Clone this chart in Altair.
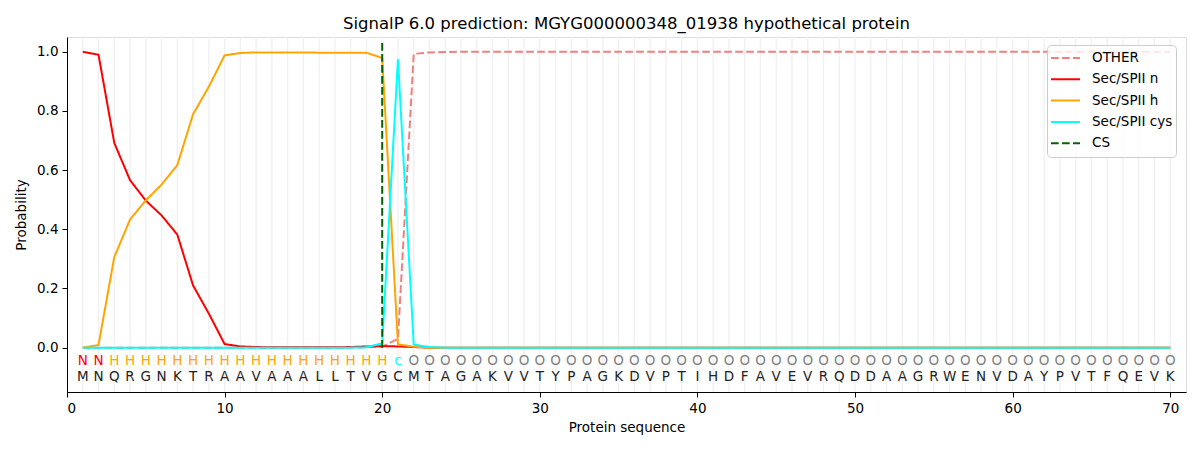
import altair as alt
import pandas as pd

sequence = list("MNQRGNKTRAAVAAALLTVGCMTAGAKVVTYPAGKDVPTIHDFAVEVRQDDAAGRWENVDAYPVTFQEVK")
labels = list("NN" + "H" * 18 + "c" + "O" * 49)

n_vals = [1.0, 0.99, 0.692, 0.566, 0.497, 0.447, 0.382, 0.21, 0.115, 0.012,
          0.004, 0.002, 0.001, 0.001, 0.001, 0.001, 0.001, 0.002, 0.004, 0.005,
          0.004, 0.002] + [0.0] * 48
h_vals = [0.0, 0.009, 0.306, 0.433, 0.498, 0.551, 0.617, 0.789, 0.882, 0.988,
          0.996, 0.998, 0.998, 0.998, 0.998, 0.997, 0.997, 0.997, 0.997, 0.979,
          0.011, 0.003] + [0.0] * 48
cys_vals = [0.0] * 18 + [0.001, 0.015, 0.975, 0.01, 0.002] + [0.0] * 47
other_vals = [0.0] * 18 + [0.001, 0.003, 0.03, 0.993, 0.998, 0.999] + [1.0] * 46
cs_pos = 20
cs_y = [0.0, 1.035]

series_names = ["OTHER", "Sec/SPII n", "Sec/SPII h", "Sec/SPII cys", "CS"]
series_colors = ["#f08080", "#ff0000", "#ffa500", "#00ffff", "#006400"]
series_dash = [[7.7, 3.3], [1, 0], [1, 0], [1, 0], [7.7, 3.3]]
label_colors = {"N": "#ff0000", "H": "#ffa500", "c": "#00ffff", "O": "#808080"}

pos = list(range(1, len(sequence) + 1))
rows = []
for name, vals in [("OTHER", other_vals), ("Sec/SPII n", n_vals),
                   ("Sec/SPII h", h_vals), ("Sec/SPII cys", cys_vals)]:
    for i, v in zip(pos, vals):
        rows.append({"pos": i, "prob": v, "series": name})
for k, yv in enumerate(cs_y):
    rows.append({"pos": cs_pos, "prob": yv, "series": "CS"})
lines_df = pd.DataFrame(rows)

letters_df = pd.DataFrame({
    "pos": pos,
    "aa": sequence,
    "lab": labels,
    "labcolor": [label_colors[l] for l in labels],
    "y_lab": [-0.045] * len(pos),
    "y_seq": [-0.1] * len(pos),
})
grid_df = pd.DataFrame({"pos": pos})

xscale = alt.Scale(domain=[0, 71], nice=False, zero=False)
yscale = alt.Scale(domain=[-0.15, 1.05], nice=False, zero=False)
FONT = "DejaVu Sans"

grid = alt.Chart(grid_df).mark_rule(color="#f0f0f0", strokeWidth=1.3).encode(
    x=alt.X("pos:Q", scale=xscale),
)

lines = alt.Chart(lines_df).mark_line(strokeWidth=2, clip=True).encode(
    x=alt.X("pos:Q", scale=xscale,
            axis=alt.Axis(values=[0, 10, 20, 30, 40, 50, 60, 70], title="Protein sequence",
                          grid=False, tickColor="black", domainColor="black",
                          labelColor="black", titleColor="black", labelFontSize=13.5,
                          titleFontSize=13.5, titleFontWeight="normal", labelFont=FONT,
                          titleFont=FONT, tickSize=5, labelPadding=4, titlePadding=6)),
    y=alt.Y("prob:Q", scale=yscale,
            axis=alt.Axis(values=[0, 0.2, 0.4, 0.6, 0.8, 1.0], format=".1f", title="Probability",
                          grid=False, tickColor="black", domainColor="black",
                          labelColor="black", titleColor="black", labelFontSize=13.5,
                          titleFontSize=13.5, titleFontWeight="normal", labelFont=FONT,
                          titleFont=FONT, tickSize=5, labelPadding=4, titlePadding=8)),
    color=alt.Color("series:N",
                    scale=alt.Scale(domain=series_names, range=series_colors),
                    legend=alt.Legend(title=None, orient="none", legendX=980, legendY=8,
                                      symbolType="stroke", symbolSize=841, clipHeight=20,
                                      symbolStrokeWidth=2, labelFontSize=13.5, labelFont=FONT,
                                      labelColor="black", padding=3, rowPadding=1.3,
                                      fillColor="rgba(255,255,255,0.8)",
                                      strokeColor="#cccccc", cornerRadius=4, labelOffset=11)),
    strokeDash=alt.StrokeDash("series:N",
                              scale=alt.Scale(domain=series_names, range=series_dash),
                              legend=None),
    detail="series:N",
    order=alt.Order("pos:Q"),
)

lab_text = alt.Chart(letters_df).mark_text(fontSize=13.5, font=FONT).encode(
    x=alt.X("pos:Q", scale=xscale),
    y=alt.Y("y_lab:Q", scale=yscale),
    text="lab:N",
    color=alt.Color("labcolor:N", scale=None),
)
seq_text = alt.Chart(letters_df).mark_text(fontSize=13.5, font=FONT, color="#222222").encode(
    x=alt.X("pos:Q", scale=xscale),
    y=alt.Y("y_seq:Q", scale=yscale),
    text="aa:N",
)

chart = alt.layer(grid, lines, lab_text, seq_text).properties(
    width=1119,
    height=355,
    title=alt.Title("SignalP 6.0 prediction: MGYG000000348_01938 hypothetical protein",
                    fontSize=16.5, fontWeight="normal", font=FONT, color="black", offset=4),
    autosize="none",
    padding={"left": 59, "top": 29, "right": 6, "bottom": 50},
).configure_view(stroke="black", strokeWidth=1).configure(background="white")

chart.save("out.html", embed_options={"renderer": "svg", "actions": False})
